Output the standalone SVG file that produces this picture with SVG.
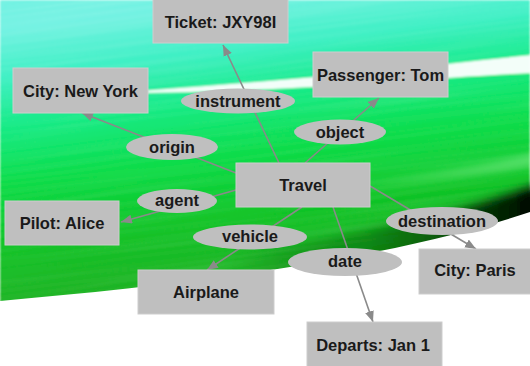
<svg xmlns="http://www.w3.org/2000/svg" width="530" height="366" viewBox="0 0 530 366">
  <defs>
    <!-- main colour ramp of the swoosh, tilted with its bands -->
    <linearGradient id="swooshFill" gradientUnits="userSpaceOnUse" x1="250" y1="0" x2="285" y2="290">
      <stop offset="0" stop-color="#72f2e2"/>
      <stop offset="0.16" stop-color="#3ef0c4"/>
      <stop offset="0.33" stop-color="#14ea84"/>
      <stop offset="0.52" stop-color="#0cdc48"/>
      <stop offset="0.72" stop-color="#10c426"/>
      <stop offset="1" stop-color="#24ae24"/>
    </linearGradient>
    <!-- shadow that darkens the lower edge towards the right -->
    <linearGradient id="edgeShade" gradientUnits="userSpaceOnUse" x1="230" y1="0" x2="530" y2="0">
      <stop offset="0" stop-color="#004400" stop-opacity="0"/>
      <stop offset="0.45" stop-color="#035a08" stop-opacity="0.5"/>
      <stop offset="0.8" stop-color="#002800" stop-opacity="0.85"/>
      <stop offset="1" stop-color="#000c00" stop-opacity="1"/>
    </linearGradient>
    <linearGradient id="glint" gradientUnits="userSpaceOnUse" x1="330" y1="0" x2="530" y2="0">
      <stop offset="0" stop-color="#b8ffb8" stop-opacity="0"/>
      <stop offset="1" stop-color="#b8ffb8" stop-opacity="0.55"/>
    </linearGradient>
    <clipPath id="swooshClip">
      <path d="M0,0 H530 V212 C380,262 180,285 0,301 Z"/>
    </clipPath>
    <filter id="soft" x="-10%" y="-10%" width="120%" height="120%">
      <feGaussianBlur stdDeviation="1"/>
    </filter>
    <filter id="softer" x="-20%" y="-50%" width="140%" height="200%">
      <feGaussianBlur stdDeviation="5"/>
    </filter>
    <filter id="streaks" x="0" y="0" width="100%" height="100%">
      <feTurbulence type="fractalNoise" baseFrequency="0.004 0.35" numOctaves="2" seed="3"/>
      <feColorMatrix type="matrix" values="0 0 0 0 1  0 0 0 0 1  0 0 0 0 1  0 0 0 0.9 -0.35"/>
    </filter>
    <marker id="arrow" markerUnits="userSpaceOnUse" markerWidth="12" markerHeight="10" refX="11" refY="4.5" orient="auto">
      <path d="M0,0 L11,4.5 L0,9 Z" fill="#8a8a8a"/>
    </marker>
    <style>
      .box { fill: #bfbfbf; stroke: #cdcdcd; stroke-width: 1; }
      .rel { fill: #bfbfbf; }
      .lbl { font-family: "Liberation Sans", Arial, sans-serif; font-weight: bold; font-size: 16.5px; fill: #1a1a1a; text-anchor: middle; }
      .edge { stroke: #8a8a8a; stroke-width: 1.6; fill: none; }
    </style>
  </defs>

  <!-- backdrop -->
  <rect width="530" height="366" fill="#ffffff"/>
  <g clip-path="url(#swooshClip)" filter="url(#soft)">
    <rect width="530" height="366" fill="url(#swooshFill)"/>
    <g transform="rotate(-7 265 150)" opacity="0.26">
      <rect x="-60" y="-60" width="650" height="420" filter="url(#streaks)"/>
    </g>
    <path d="M200,282 C330,262 440,242 545,205" stroke="url(#edgeShade)" stroke-width="44" fill="none" filter="url(#softer)"/>
    <path d="M330,190 C420,180 480,170 540,158" stroke="url(#glint)" stroke-width="9" fill="none" filter="url(#softer)"/>
    <!-- white highlight streak -->
    <path d="M140,91 C220,85 300,79 380,71 C440,65 490,59 532,55 L532,73 C490,75 440,78 380,83 C300,88 220,92 140,93 Z" fill="#ffffff" opacity="0.95"/>
  </g>

  <!-- connectors -->
  <g id="connectors">
    <line class="edge" x1="236" y1="173" x2="82" y2="113" marker-end="url(#arrow)"/>
    <line class="edge" x1="279" y1="163" x2="223" y2="45" marker-end="url(#arrow)"/>
    <line class="edge" x1="305" y1="163" x2="379" y2="98" marker-end="url(#arrow)"/>
    <line class="edge" x1="236" y1="190" x2="121" y2="222" marker-end="url(#arrow)"/>
    <line class="edge" x1="302" y1="207" x2="207" y2="270" marker-end="url(#arrow)"/>
    <line class="edge" x1="333" y1="207" x2="373" y2="322" marker-end="url(#arrow)"/>
    <line class="edge" x1="370" y1="186" x2="476" y2="249" marker-end="url(#arrow)"/>
  </g>

  <!-- concept nodes -->
  <g id="node-ticket"><rect class="box" x="153" y="-1" width="135" height="44"/><text class="lbl" x="220.5" y="27.5">Ticket: JXY98I</text></g>
  <g id="node-newyork"><rect class="box" x="13" y="68" width="135" height="45"/><text class="lbl" x="80.5" y="97">City: New York</text></g>
  <g id="node-passenger"><rect class="box" x="313" y="52" width="135" height="45"/><text class="lbl" x="380.5" y="81">Passenger: Tom</text></g>
  <g id="node-travel"><rect class="box" x="236" y="163" width="134" height="44"/><text class="lbl" x="303" y="191">Travel</text></g>
  <g id="node-pilot"><rect class="box" x="5" y="201" width="114" height="44"/><text class="lbl" x="62" y="228.5">Pilot: Alice</text></g>
  <g id="node-airplane"><rect class="box" x="138" y="270" width="136" height="44"/><text class="lbl" x="206" y="298">Airplane</text></g>
  <g id="node-paris"><rect class="box" x="419" y="249" width="112" height="45"/><text class="lbl" x="475" y="276">City: Paris</text></g>
  <g id="node-departs"><rect class="box" x="307" y="322" width="135" height="46"/><text class="lbl" x="373" y="351">Departs: Jan 1</text></g>

  <!-- relation nodes -->
  <g id="rel-instrument"><ellipse class="rel" cx="238" cy="101" rx="57" ry="12.5"/><text class="lbl" x="238" y="106.5">instrument</text></g>
  <g id="rel-object"><ellipse class="rel" cx="340" cy="132" rx="46" ry="12.5"/><text class="lbl" x="340" y="138">object</text></g>
  <g id="rel-origin"><ellipse class="rel" cx="172" cy="147" rx="46" ry="13"/><text class="lbl" x="172" y="152.5">origin</text></g>
  <g id="rel-agent"><ellipse class="rel" cx="177" cy="201" rx="40" ry="12"/><text class="lbl" x="177" y="206">agent</text></g>
  <g id="rel-vehicle"><ellipse class="rel" cx="250" cy="237" rx="57" ry="12.5"/><text class="lbl" x="250" y="242">vehicle</text></g>
  <g id="rel-date"><ellipse class="rel" cx="345" cy="262" rx="57" ry="14"/><text class="lbl" x="345" y="267">date</text></g>
  <g id="rel-destination"><ellipse class="rel" cx="442" cy="221" rx="56" ry="14"/><text class="lbl" x="442" y="226.5">destination</text></g>
</svg>
